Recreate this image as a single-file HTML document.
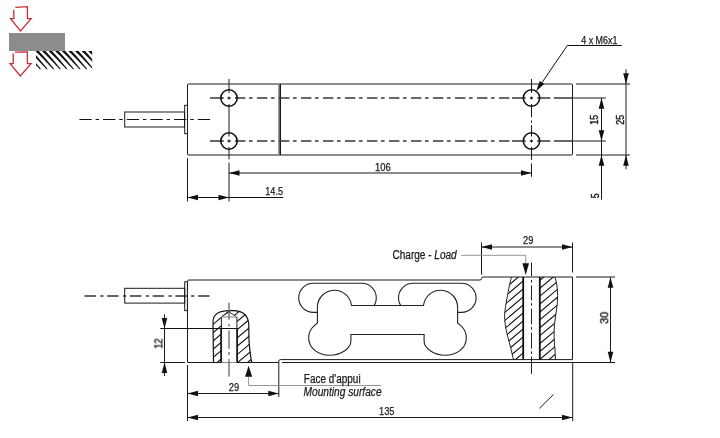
<!DOCTYPE html>
<html><head><meta charset="utf-8">
<style>
html,body{margin:0;padding:0;background:#fff;}
body{width:720px;height:438px;overflow:hidden;}
svg{display:block;}
text{font-family:"Liberation Sans",sans-serif;fill:#1a1a1a;stroke:#1a1a1a;stroke-width:0.25px;}
.t{filter:grayscale(1);}
</style></head>
<body>
<svg width="720" height="438" viewBox="0 0 720 438">
<defs>
  <pattern id="hatchIcon" patternUnits="userSpaceOnUse" x="-2" width="6.65" height="40" patternTransform="skewX(35)">
    <rect x="0" y="0" width="2" height="40" fill="#111"/>
  </pattern>
  <pattern id="hatch" patternUnits="userSpaceOnUse" width="6" height="6" patternTransform="rotate(45)">
    <line x1="0" y1="0" x2="0" y2="6" stroke="#000" stroke-width="1.25"/>
  </pattern>
  <clipPath id="clipL">
    <path d="M213.5,362 L213,322 C213,314 220,310.8 229,310.8 L233,310.8 C243,310.8 248.8,316 248.8,326 L249,340 C249.5,350 251,358 251.5,362 Z"/>
  </clipPath>
  <clipPath id="halfL"><rect x="200" y="300" width="29" height="70"/></clipPath>
  <clipPath id="halfR"><rect x="229" y="300" width="30" height="70"/></clipPath>
  <clipPath id="clipR1"><path d="M511.4,277 C510,283 509,287 508.3,291.4 C507.3,297 506.3,301 505.7,305.8 C505,310 504.6,313 504.6,316.1 C504.6,321 505.3,326 506.3,330.5 C507.2,335 508.3,339 509.4,342.8 C510.5,347 511.6,351 512.4,355.1 C512.8,357 513.2,358.2 513.5,359.6 L523.3,359.6 L523.3,277 Z"/></clipPath>
  <clipPath id="clipR2"><path d="M539.8,277 L554.9,277 C555.6,279 556.2,281 556.5,283.2 C557.2,287 557.6,291 557.6,295.5 C557.6,300 557.3,305 556.5,309.9 C555.8,314.5 555,319.5 554.5,324.3 C554.2,328.5 554,332.5 554.1,336.6 C554.2,341 554.6,345 554.9,349 C555.2,352.5 555.4,356 555.5,359.6 L539.8,359.6 Z"/></clipPath>
</defs>

<!-- ============ ICON ============ -->
<g>
  <rect x="9" y="33" width="56" height="18" fill="#8b8c8e"/>
  <clipPath id="clipIcon"><rect x="36" y="51" width="56.2" height="18.3"/></clipPath>
  <g clip-path="url(#clipIcon)" fill="#111" stroke="none">
    <path d="M9.14,51.35 L10.59,52.71 L12.04,54.11 L13.51,55.55 L14.99,57.02 L16.49,58.53 L17.99,60.07 L19.52,61.65 L21.05,63.27 L22.60,64.93 L24.16,66.62 L25.73,68.35 L27.32,70.12 L28.08,69.48 L26.60,67.62 L25.13,65.79 L23.67,63.99 L22.22,62.24 L20.79,60.52 L19.37,58.83 L17.95,57.18 L16.55,55.56 L15.16,53.98 L13.78,52.43 L12.41,50.92 L11.06,49.45ZM15.74,51.35 L17.19,52.71 L18.64,54.11 L20.11,55.55 L21.59,57.02 L23.09,58.53 L24.59,60.07 L26.12,61.65 L27.65,63.27 L29.20,64.93 L30.76,66.62 L32.33,68.35 L33.92,70.12 L34.68,69.48 L33.20,67.62 L31.73,65.79 L30.27,63.99 L28.82,62.24 L27.39,60.52 L25.97,58.83 L24.55,57.18 L23.15,55.56 L21.76,53.98 L20.38,52.43 L19.01,50.92 L17.66,49.45ZM22.34,51.35 L23.79,52.71 L25.24,54.11 L26.71,55.55 L28.19,57.02 L29.69,58.53 L31.19,60.07 L32.72,61.65 L34.25,63.27 L35.80,64.93 L37.36,66.62 L38.93,68.35 L40.52,70.12 L41.28,69.48 L39.80,67.62 L38.33,65.79 L36.87,63.99 L35.42,62.24 L33.99,60.52 L32.57,58.83 L31.15,57.18 L29.75,55.56 L28.36,53.98 L26.98,52.43 L25.61,50.92 L24.26,49.45ZM28.94,51.35 L30.39,52.71 L31.84,54.11 L33.31,55.55 L34.79,57.02 L36.29,58.53 L37.79,60.07 L39.32,61.65 L40.85,63.27 L42.40,64.93 L43.96,66.62 L45.53,68.35 L47.12,70.12 L47.88,69.48 L46.40,67.62 L44.93,65.79 L43.47,63.99 L42.02,62.24 L40.59,60.52 L39.17,58.83 L37.75,57.18 L36.35,55.56 L34.96,53.98 L33.58,52.43 L32.21,50.92 L30.86,49.45ZM35.54,51.35 L36.99,52.71 L38.44,54.11 L39.91,55.55 L41.39,57.02 L42.89,58.53 L44.39,60.07 L45.92,61.65 L47.45,63.27 L49.00,64.93 L50.56,66.62 L52.13,68.35 L53.72,70.12 L54.48,69.48 L53.00,67.62 L51.53,65.79 L50.07,63.99 L48.62,62.24 L47.19,60.52 L45.77,58.83 L44.35,57.18 L42.95,55.56 L41.56,53.98 L40.18,52.43 L38.81,50.92 L37.46,49.45ZM42.14,51.35 L43.59,52.71 L45.04,54.11 L46.51,55.55 L47.99,57.02 L49.49,58.53 L50.99,60.07 L52.52,61.65 L54.05,63.27 L55.60,64.93 L57.16,66.62 L58.73,68.35 L60.32,70.12 L61.08,69.48 L59.60,67.62 L58.13,65.79 L56.67,63.99 L55.22,62.24 L53.79,60.52 L52.37,58.83 L50.95,57.18 L49.55,55.56 L48.16,53.98 L46.78,52.43 L45.41,50.92 L44.06,49.45ZM48.74,51.35 L50.19,52.71 L51.64,54.11 L53.11,55.55 L54.59,57.02 L56.09,58.53 L57.59,60.07 L59.12,61.65 L60.65,63.27 L62.20,64.93 L63.76,66.62 L65.33,68.35 L66.92,70.12 L67.68,69.48 L66.20,67.62 L64.73,65.79 L63.27,63.99 L61.82,62.24 L60.39,60.52 L58.97,58.83 L57.55,57.18 L56.15,55.56 L54.76,53.98 L53.38,52.43 L52.01,50.92 L50.66,49.45ZM55.34,51.35 L56.79,52.71 L58.24,54.11 L59.71,55.55 L61.19,57.02 L62.69,58.53 L64.19,60.07 L65.72,61.65 L67.25,63.27 L68.80,64.93 L70.36,66.62 L71.93,68.35 L73.52,70.12 L74.28,69.48 L72.80,67.62 L71.33,65.79 L69.87,63.99 L68.42,62.24 L66.99,60.52 L65.57,58.83 L64.15,57.18 L62.75,55.56 L61.36,53.98 L59.98,52.43 L58.61,50.92 L57.26,49.45ZM61.94,51.35 L63.39,52.71 L64.84,54.11 L66.31,55.55 L67.79,57.02 L69.29,58.53 L70.79,60.07 L72.32,61.65 L73.85,63.27 L75.40,64.93 L76.96,66.62 L78.53,68.35 L80.12,70.12 L80.88,69.48 L79.40,67.62 L77.93,65.79 L76.47,63.99 L75.02,62.24 L73.59,60.52 L72.17,58.83 L70.75,57.18 L69.35,55.56 L67.96,53.98 L66.58,52.43 L65.21,50.92 L63.86,49.45ZM68.54,51.35 L69.99,52.71 L71.44,54.11 L72.91,55.55 L74.39,57.02 L75.89,58.53 L77.39,60.07 L78.92,61.65 L80.45,63.27 L82.00,64.93 L83.56,66.62 L85.13,68.35 L86.72,70.12 L87.48,69.48 L86.00,67.62 L84.53,65.79 L83.07,63.99 L81.62,62.24 L80.19,60.52 L78.77,58.83 L77.35,57.18 L75.95,55.56 L74.56,53.98 L73.18,52.43 L71.81,50.92 L70.46,49.45ZM75.14,51.35 L76.59,52.71 L78.04,54.11 L79.51,55.55 L80.99,57.02 L82.49,58.53 L83.99,60.07 L85.52,61.65 L87.05,63.27 L88.60,64.93 L90.16,66.62 L91.73,68.35 L93.32,70.12 L94.08,69.48 L92.60,67.62 L91.13,65.79 L89.67,63.99 L88.22,62.24 L86.79,60.52 L85.37,58.83 L83.95,57.18 L82.55,55.56 L81.16,53.98 L79.78,52.43 L78.41,50.92 L77.06,49.45ZM81.74,51.35 L83.19,52.71 L84.64,54.11 L86.11,55.55 L87.59,57.02 L89.09,58.53 L90.59,60.07 L92.12,61.65 L93.65,63.27 L95.20,64.93 L96.76,66.62 L98.33,68.35 L99.92,70.12 L100.68,69.48 L99.20,67.62 L97.73,65.79 L96.27,63.99 L94.82,62.24 L93.39,60.52 L91.97,58.83 L90.55,57.18 L89.15,55.56 L87.76,53.98 L86.38,52.43 L85.01,50.92 L83.66,49.45ZM88.34,51.35 L89.79,52.71 L91.24,54.11 L92.71,55.55 L94.19,57.02 L95.69,58.53 L97.19,60.07 L98.72,61.65 L100.25,63.27 L101.80,64.93 L103.36,66.62 L104.93,68.35 L106.52,70.12 L107.28,69.48 L105.80,67.62 L104.33,65.79 L102.87,63.99 L101.42,62.24 L99.99,60.52 L98.57,58.83 L97.15,57.18 L95.75,55.56 L94.36,53.98 L92.98,52.43 L91.61,50.92 L90.26,49.45ZM94.94,51.35 L96.39,52.71 L97.84,54.11 L99.31,55.55 L100.79,57.02 L102.29,58.53 L103.79,60.07 L105.32,61.65 L106.85,63.27 L108.40,64.93 L109.96,66.62 L111.53,68.35 L113.12,70.12 L113.88,69.48 L112.40,67.62 L110.93,65.79 L109.47,63.99 L108.02,62.24 L106.59,60.52 L105.17,58.83 L103.75,57.18 L102.35,55.56 L100.96,53.98 L99.58,52.43 L98.21,50.92 L96.86,49.45Z"/>
  </g>
  <path d="M15.3,7.4 L27.3,6.6 L27.5,18.7 L31.1,18.7 L20.5,31 L10.5,18.7 L13.9,18.7 L13.7,9.8" fill="#fff" stroke="#c42f35" stroke-width="1.3" stroke-linejoin="miter"/>
  <path d="M14.9,52.2 L27.3,51.8 L27.4,63.7 L31.1,63.7 L20.3,76 L10.1,63.7 L13.3,63.7 L13.2,53.5" fill="#fff" stroke="#c42f35" stroke-width="1.3" stroke-linejoin="miter"/>
</g>

<!-- ============ TOP VIEW ============ -->
<g fill="none" stroke="#1a1a1a" stroke-width="1">
  <!-- centerline of cable -->
  <path d="M79.4,119.5 H211" stroke="#111" stroke-dasharray="12.3 3.9 3.4 4.08" />
  <!-- cable -->
  <rect x="124.7" y="112" width="59.8" height="15"/>
  <!-- gland -->
  <rect x="184.7" y="105.3" width="2.8" height="28.4"/>
  <!-- body -->
  <rect x="187.5" y="84" width="385" height="71" rx="0.8"/>
  <!-- double line -->
  <line x1="278.5" y1="84" x2="278.5" y2="155" stroke="#999"/>
  <line x1="279.5" y1="84" x2="279.5" y2="155" stroke="#666"/>
  <line x1="280.5" y1="84" x2="280.5" y2="155" stroke="#151515"/>
  <!-- hole rows dash-dot -->
  <g stroke-width="1.3" stroke="#373737">
  <path d="M210,98 H223.8 M227.4,98 H230.7 M210,141 H223.8 M227.4,141 H230.7"/>
  <path d="M235,98 H509.4 M235,141 H509.4" stroke-dasharray="10.4 3.6 3.6 4.4"/>
  <path d="M512,98 H525.6 M529.8,98 H533 M537.2,98 H550.4 M553.8,98 H572.5 M512,141 H525.6 M529.8,141 H533 M537.2,141 H550.4 M553.8,141 H572.5"/>
  </g>
  <path d="M572.5,98 H605.8 M572.5,141 H605.8"/>
  <!-- vertical centerlines -->
  <path d="M229,79 V93 M229,96.5 V99.5 M229,104 V136.5 M229,139.5 V142.5 M229,147 V159.4 M229,162.6 V201.5"/>
  <path d="M531.5,79 V93 M531.5,96.5 V99.5 M531.5,104 V117.4 M531.5,120.5 V122.8 M531.5,125.1 V136.5 M531.5,139.5 V142.5 M531.5,147 V160 M531.5,163.4 V176.8"/>
  <!-- holes -->
  <g stroke="#111" stroke-width="1.6">
    <circle cx="229" cy="98" r="8.2"/>
    <circle cx="229" cy="141" r="8.2"/>
    <circle cx="531.5" cy="98" r="8.2"/>
    <circle cx="531.5" cy="141" r="8.2"/>
  </g>
  <!-- extension lines right -->
  <path d="M576,84 H630 M576,155 H630"/>
  <!-- dim 25 -->
  <path d="M626,69.4 V84 M626,155 V169.2"/>
  <path d="M626,84 V155"/>
  <!-- dim 15 / 5 -->
  <path d="M601.5,98 V199.7"/>
  <!-- dim 106 -->
  <path d="M229,173 H531.5"/>
  <!-- dim 14.5 -->
  <path d="M187.5,158.2 V201.5"/>
  <path d="M187.5,197.5 H283.3" stroke="#111"/>
  <!-- leader 4xM6x1 -->
  <path d="M621.8,45.5 H567.3 L538,88.5" stroke="#111"/>
</g>
<g fill="#111">
  <!-- arrows top view -->
  <path d="M626,84 l-2.8,-10.8 h5.6 Z"/>
  <path d="M626,155 l-2.8,10.8 h5.6 Z"/>
  <path d="M601.5,98 l-2.8,10.8 h5.6 Z"/>
  <path d="M601.5,141 l-2.8,-10.8 h5.6 Z"/>
  <path d="M601.5,155 l-2.8,10.8 h5.6 Z"/>
  <path d="M229,173 l10.5,-2.8 v5.6 Z"/>
  <path d="M531.5,173 l-10.5,-2.8 v5.6 Z"/>
  <path d="M187.5,197.5 l10.5,-2.8 v5.6 Z"/>
  <path d="M229,197.5 l-10.5,-2.8 v5.6 Z"/>
  <path d="M536.1,91.2 L539.7,81 L544.2,84.1 Z"/>
</g>
<g class="t" font-size="10.5">
  <text x="581.2" y="43.6" textLength="36.3" lengthAdjust="spacingAndGlyphs">4 x M6x1</text>
  <text x="375.1" y="170.7" textLength="15.7" lengthAdjust="spacingAndGlyphs">106</text>
  <text x="265.3" y="195" textLength="17.7" lengthAdjust="spacingAndGlyphs">14.5</text>
  <text transform="translate(598.4,124.7) rotate(-90)" textLength="9.9" lengthAdjust="spacingAndGlyphs" style="stroke-width:0.4px">15</text>
  <text transform="translate(623.6,124.7) rotate(-90)" textLength="9.9" lengthAdjust="spacingAndGlyphs" style="stroke-width:0.4px">25</text>
  <text transform="translate(598.6,198.3) rotate(-90)" textLength="4.9" lengthAdjust="spacingAndGlyphs" style="stroke-width:0.4px">5</text>
</g>

<!-- ============ SIDE VIEW ============ -->
<g fill="none" stroke="#1a1a1a" stroke-width="1">
  <path d="M84.5,296 H210" stroke="#333" stroke-width="1.3" stroke-dasharray="11.4 4.4 3.2 3.72"/>
  <rect x="124.7" y="288.3" width="60" height="14.8"/>
  <rect x="184.7" y="281.8" width="2.7" height="28.8"/>
  <!-- body outline -->
  <path d="M187.5,362.5 V281.5 Q187.5,280 189,280 H480 Q481.5,280 481.5,278.5 Q481.5,277 483,277 H572.5 V359.6 H280.5 Q278.8,359.6 278.8,361.3 V397"/>
  <path d="M187.5,362.5 H278.8"/>
  <path d="M282,362.5 H615"/>
  <path d="M187.5,365 V421"/>
  <path d="M572.7,362.5 V421.3"/>
  <!-- bone + pills -->
  <g stroke="#222" stroke-width="1.1">
    <rect x="298.7" y="283.3" width="77.6" height="29.1" rx="14.55"/>
    <rect x="398.5" y="283.3" width="77.6" height="29.1" rx="14.55"/>
    <path d="M351.5,305.5 A17.1,17.1 0 0 0 317.4,307.2 L317.4,323 L313.5,326.3 C310,329.5 308.7,333.5 308.7,338 C308.7,348 318,355.3 329.8,355.3 C341.5,355.3 350.9,348 350.9,341 L350.9,334.5 L424.1,334.5 L424.1,341 C424.1,348 433.5,355.3 445.2,355.3 C457,355.3 466.3,348 466.3,338 C466.3,333.5 465,329.5 461.5,326.3 L457.6,323 L457.6,307.2 A17.1,17.1 0 0 0 423.5,305.5 Z" fill="#fff"/>
  </g>

  <!-- left mounting hole section -->
  <g clip-path="url(#clipL)">
    <path clip-path="url(#halfL)" d="M205.0,306.2L230.0,285.2M205.0,314.5L230.0,293.5M205.0,322.8L230.0,301.8M205.0,331.1L230.0,310.1M205.0,339.4L230.0,318.4M205.0,347.7L230.0,326.7M205.0,356.0L230.0,335.0M205.0,364.3L230.0,343.3M205.0,372.6L230.0,351.6M205.0,380.9L230.0,359.9" stroke="#111" stroke-width="1.1"/>
    <path clip-path="url(#halfR)" d="M228.0,312.4L255.0,289.8M228.0,320.7L255.0,298.1M228.0,329.0L255.0,306.4M228.0,337.3L255.0,314.7M228.0,345.6L255.0,323.0M228.0,353.9L255.0,331.3M228.0,362.2L255.0,339.6M228.0,370.5L255.0,347.9M228.0,378.8L255.0,356.2M228.0,387.1L255.0,364.5" stroke="#111" stroke-width="1.1"/>
  </g>
  <path d="M221.2,362.5 V316.8 L229,311.9 L236.9,316.8 V362.5 Z" fill="#fff" stroke="none"/>
  <path d="M213.5,362 L213,322 C213,314 220,310.6 229,310.6 L233,310.6 C243,310.6 248.8,316 248.8,326 L249,340 C249.5,350 251,358 251.5,362" stroke="#111" stroke-width="1.2"/>
  <path d="M221.6,316.8 L229,311.9 L236.6,316.8" stroke="#222"/>
  <path d="M221.6,317 H236.6" stroke="#888"/>
  <path d="M221.4,317 V328.5 M236.9,317 V328.5" stroke="#333" stroke-width="1.1"/>
  <path d="M221.1,328.5 V362.5 M237.1,328.5 V362.5" stroke="#111" stroke-width="1.7"/>
  <path d="M160.3,328.5 H237.6" stroke="#111"/>
  <path d="M160.3,362.5 H185.1"/>
  <path d="M229,302.7 V319.8 M229,324.1 V326.6 M229,330.6 V348.8 M229,352 V355.1 M229,358.9 V376.4" stroke="#666" stroke-width="1.3"/>

  <!-- right load section -->
  <path clip-path="url(#clipR1)" d="M500.0,276.5L525.0,255.5M500.0,284.5L525.0,263.5M500.0,292.5L525.0,271.5M500.0,300.5L525.0,279.5M500.0,308.5L525.0,287.5M500.0,316.5L525.0,295.5M500.0,324.5L525.0,303.5M500.0,332.5L525.0,311.5M500.0,340.5L525.0,319.5M500.0,348.5L525.0,327.5M500.0,356.5L525.0,335.5M500.0,364.5L525.0,343.5M500.0,372.5L525.0,351.5M500.0,380.5L525.0,359.5" stroke="#111" stroke-width="1.1"/>
  <path clip-path="url(#clipR2)" d="M538.0,274.0L562.0,253.9M538.0,281.9L562.0,261.8M538.0,289.8L562.0,269.7M538.0,297.7L562.0,277.6M538.0,305.6L562.0,285.5M538.0,313.5L562.0,293.4M538.0,321.4L562.0,301.3M538.0,329.3L562.0,309.2M538.0,337.2L562.0,317.1M538.0,345.1L562.0,325.0M538.0,353.0L562.0,332.9M538.0,360.9L562.0,340.8M538.0,368.8L562.0,348.7M538.0,376.7L562.0,356.6M538.0,384.6L562.0,364.5" stroke="#111" stroke-width="1.1"/>
  <path d="M511.4,277 C510,283 509,287 508.3,291.4 C507.3,297 506.3,301 505.7,305.8 C505,310 504.6,313 504.6,316.1 C504.6,321 505.3,326 506.3,330.5 C507.2,335 508.3,339 509.4,342.8 C510.5,347 511.6,351 512.4,355.1 C512.8,357 513.2,358.2 513.5,359.6" stroke="#222"/>
  <path d="M554.9,277 C555.6,279 556.2,281 556.5,283.2 C557.2,287 557.6,291 557.6,295.5 C557.6,300 557.3,305 556.5,309.9 C555.8,314.5 555,319.5 554.5,324.3 C554.2,328.5 554,332.5 554.1,336.6 C554.2,341 554.6,345 554.9,349 C555.2,352.5 555.4,356 555.5,359.6" stroke="#222"/>
  <path d="M523.2,277 V359.6 M539.8,277 V359.6" stroke="#111" stroke-width="1.8"/>
  <path d="M531.5,262.5 V276 M531.5,279.8 V282.5 M531.5,285.3 V300.3 M531.5,303.1 V305.8 M531.5,308.6 V324.3 M531.5,327 V329.8 M531.5,332.7 V348.5 M531.5,351.3 V354 M531.5,356.5 V374" stroke="#222"/>

  <!-- dims side view -->
  <path d="M164.5,314.4 V376"/>
  <path d="M187.5,393.5 H278.8"/>
  <path d="M187.5,417.5 H572.5"/>
  <path d="M481.5,242.5 V274.6 M572.5,242.5 V272.5"/>
  <path d="M481.5,247 H572.5"/>
  <path d="M576,277 H615"/>
  <path d="M610.5,277 V362.5"/>
  <!-- leaders -->
  <path d="M461.2,255.3 H525.7 V263" stroke="#8a8a8a" stroke-width="0.9"/>
  <path d="M248.6,377 V385.5 H381" stroke="#8a8a8a" stroke-width="0.9"/>
  <path d="M539.4,408.3 L553.6,394.3"/>
</g>
<g fill="#111">
  <path d="M164.5,328.5 l-2.8,-10.5 h5.6 Z"/>
  <path d="M164.5,362.5 l-2.8,10.5 h5.6 Z"/>
  <path d="M187.5,393.5 l10.5,-2.8 v5.6 Z"/>
  <path d="M278.8,393.5 l-10.5,-2.8 v5.6 Z"/>
  <path d="M187.5,417.5 l10.5,-2.8 v5.6 Z"/>
  <path d="M572.5,417.5 l-10.5,-2.8 v5.6 Z"/>
  <path d="M481.5,247 l10.5,-2.8 v5.6 Z"/>
  <path d="M572.5,247 l-10.5,-2.8 v5.6 Z"/>
  <path d="M610.5,277 l-2.8,10.8 h5.6 Z"/>
  <path d="M610.5,362.5 l-2.8,-10.8 h5.6 Z"/>
  <path d="M525.7,275 l-3.3,-11.7 h6.6 Z"/>
  <path d="M248.6,365.8 l-3.6,10.9 h7.2 Z"/>
</g>
<g class="t" font-size="10.5">
  <text x="523" y="244.2" textLength="10.3" lengthAdjust="spacingAndGlyphs">29</text>
  <text x="228.8" y="390.6" textLength="10.2" lengthAdjust="spacingAndGlyphs">29</text>
  <text x="379.1" y="415.1" textLength="15.4" lengthAdjust="spacingAndGlyphs">135</text>
  <text transform="translate(162.3,348.6) rotate(-90)" textLength="10.2" lengthAdjust="spacingAndGlyphs" style="stroke-width:0.4px">12</text>
  <text transform="translate(608.2,323.8) rotate(-90)" textLength="12" lengthAdjust="spacingAndGlyphs" style="stroke-width:0.4px">30</text>
</g>
<g class="t" font-size="12">
  <text x="392.5" y="258.7" textLength="64.2" lengthAdjust="spacingAndGlyphs">Charge - <tspan font-style="italic">Load</tspan></text>
  <text x="303.8" y="382.5" textLength="56.8" lengthAdjust="spacingAndGlyphs">Face d'appui</text>
  <text x="303.6" y="396.4" font-style="italic" textLength="78" lengthAdjust="spacingAndGlyphs">Mounting surface</text>
</g>
</svg>
</body></html>
